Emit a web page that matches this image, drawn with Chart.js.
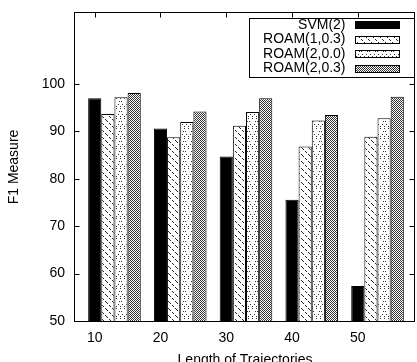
<!DOCTYPE html>
<html>
<head>
<meta charset="utf-8">
<title>F1 Measure vs Length of Trajectories</title>
<script src="https://cdn.jsdelivr.net/npm/chart.js@4.4.1/dist/chart.umd.min.js"></script>
<style>
  html, body { margin: 0; padding: 0; background: #fff; }
  canvas { display: block; }
</style>
</head>
<body>
<canvas id="barChart" width="417" height="362"></canvas>
<script>
const categories = ["10", "20", "30", "40", "50"]
const seriesNames = ["SVM(2)", "ROAM(1,0.3)", "ROAM(2,0.0)", "ROAM(2,0.3)"]
const svm = [97.0, 90.6, 84.7, 75.6, 57.4]
const roam103 = [93.7, 88.8, 91.2, 86.8, 88.9]
const roam200 = [97.2, 92.0, 94.1, 92.3, 92.8]
const roam203 = [98.1, 94.2, 97.0, 93.5, 97.3]
const yTicks = [50, 60, 70, 80, 90, 100]

Chart.defaults.font.family = "'Liberation Sans', Arial, sans-serif"
Chart.defaults.font.size = 14
Chart.defaults.color = "#000"

// small bitmap fills, like gnuplot's fill patterns
const makePattern = (w, h, fg, pixels) => {
	const c = document.createElement("canvas")
	c.width = w
	c.height = h
	const g = c.getContext("2d")
	g.fillStyle = "#fff"
	g.fillRect(0, 0, w, h)
	g.fillStyle = fg
	pixels.forEach(([px, py]) => g.fillRect(px, py, 1, 1))
	return g.createPattern(c, "repeat")
}

const hatch = makePattern(7, 7, "#222", [[0, 0], [1, 1], [2, 2], [4, 4], [5, 5]])
const dots = makePattern(8, 10, "#333", [[1, 1], [7, 1], [2, 4], [6, 4], [4, 6], [4, 8], [0, 6], [0, 8]])
const grey = makePattern(2, 2, "#333", [[0, 0], [1, 1]])

const fills = ["#000", hatch, dots, grey]
const series = [svm, roam103, roam200, roam203]

const framePlugin = {
	id: "frame",
	afterDatasetsDraw(chart) {
		const { ctx, chartArea: a, scales } = chart
		const l = a.left - 0.5, r = a.right - 0.5, t = a.top - 0.5, b = a.bottom + 0.5
		ctx.save()
		ctx.strokeStyle = "#000"
		ctx.lineWidth = 1
		ctx.strokeRect(l, t, r - l, b - t)
		ctx.beginPath()
		yTicks.forEach((v) => {
			const py = Math.round(scales.y.getPixelForValue(v)) + 0.5
			ctx.moveTo(l, py); ctx.lineTo(l + 5, py)
			ctx.moveTo(r, py); ctx.lineTo(r - 5, py)
		})
		scales.x.ticks.forEach((tk) => {
			const px = Math.round(scales.x.getPixelForValue(tk.value)) + 0.5
			ctx.moveTo(px, b); ctx.lineTo(px, b - 5)
			ctx.moveTo(px, t); ctx.lineTo(px, t + 5)
		})
		ctx.stroke()
		ctx.restore()
	},
}

const legendPlugin = {
	id: "boxLegend",
	afterDraw(chart) {
		const { ctx, chartArea: a } = chart
		const left = a.right - 166, top = a.top + 5
		ctx.save()
		ctx.fillStyle = "#fff"
		ctx.fillRect(left, top, a.right - left, 59)
		ctx.strokeStyle = "#000"
		ctx.lineWidth = 1
		ctx.strokeRect(left + 0.5, top + 0.5, a.right - left - 1, 59)
		ctx.font = "14px 'Liberation Sans', Arial, sans-serif"
		ctx.textAlign = "right"
		ctx.textBaseline = "middle"
		chart.data.datasets.forEach((ds, i) => {
			const rowY = top + 7 + i * 14.5
			ctx.fillStyle = "#000"
			ctx.fillText(ds.label, left + 96.5, rowY)
			ctx.fillStyle = ds.backgroundColor
			ctx.fillRect(left + 106, Math.round(rowY - 4), 45, 8)
			ctx.strokeRect(left + 106.5, Math.round(rowY - 4) + 0.5, 44, 7)
		})
		ctx.restore()
	},
}

new Chart(document.getElementById("barChart"), {
	type: "bar",
	data: {
		datasets: series.map((vals, k) => ({
			label: seriesNames[k],
			data: vals.map((v, i) => ({ x: i, y: v })),
			backgroundColor: fills[k],
			borderColor: "#000",
			borderWidth: 1,
			categoryPercentage: 0.8,
			barPercentage: 1.0,
		})),
	},
	options: {
		responsive: false,
		animation: false,
		layout: { padding: { top: 13, right: 2, left: 0, bottom: 0 } },
		plugins: { legend: { display: false }, tooltip: { enabled: false } },
		scales: {
			x: {
				type: "linear",
				offset: false,
				min: -0.6,
				max: 4.57,
				grid: { display: false, drawTicks: false },
				border: { display: false },
				afterBuildTicks: (axis) => {
					axis.ticks = categories.map((c, i) => ({ value: i - 0.3 }))
				},
				ticks: { autoSkip: false, maxRotation: 0, padding: 9, callback: (v, i) => categories[i] },
				title: { display: true, text: "Length of Trajectories", padding: { top: 0, bottom: -7 } },
				afterFit: (s) => {
					s.height = 41
					s.paddingLeft = 0
					s.paddingRight = 0
				},
			},
			y: {
				min: 50,
				max: 115,
				beginAtZero: false,
				grid: { display: false, drawTicks: false },
				border: { display: false },
				afterBuildTicks: (axis) => {
					axis.ticks = yTicks.map((v) => ({ value: v }))
				},
				ticks: { padding: 10 },
				title: { display: true, text: "F1 Measure", padding: { top: 6, bottom: 0 } },
				afterFit: (s) => {
					s.width = 75
					s.paddingTop = 0
					s.paddingBottom = 0
				},
			},
		},
	},
	plugins: [framePlugin, legendPlugin],
})
</script>
</body>
</html>
